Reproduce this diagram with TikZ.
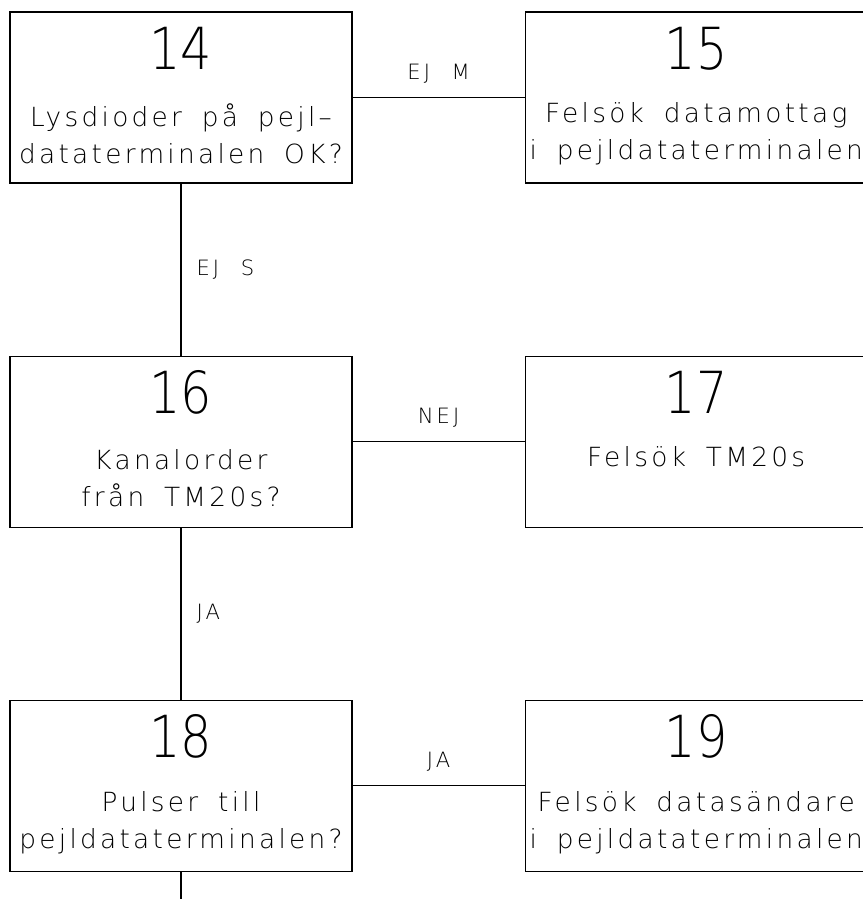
\documentclass[tikz,border=0pt]{standalone}
\usepackage{fontspec}
\newfontfamily\numfont{DejaVu Sans ExtraLight}[FakeStretch=0.85]
\newfontfamily\cadfont{DejaVu Sans ExtraLight}[LetterSpace=12.5, WordSpace=1.7]
\newfontfamily\lblfont{DejaVu Sans ExtraLight}[LetterSpace=15, WordSpace=2.2]
\usepackage{tikz}
\usetikzlibrary{positioning}

\begin{document}
\begin{tikzpicture}[
    node distance=3.44cm,
    box/.style={rectangle, draw, line width=0.7pt, minimum width=6.84cm, minimum height=3.42cm, inner sep=0pt},
    num/.style={font=\numfont\fontsize{33}{33}\selectfont, inner sep=0pt},
    txt/.style={font=\cadfont\fontsize{15}{21}\selectfont, align=center, inner sep=0pt},
    hlbl/.style={font=\lblfont\fontsize{12}{12}\selectfont, inner sep=0pt, anchor=base, yshift=0.37cm},
    vlbl/.style={font=\lblfont\fontsize{12}{12}\selectfont, inner sep=0pt, anchor=west, xshift=0.3cm},
    link/.style={line width=0.6pt}
]
\useasboundingbox (0,0) rectangle (17.26,-17.98);
\clip (0,0) rectangle (17.26,-17.98);

\node[box] (b14) at (3.62,-1.95) {};
\node[box, right=of b14] (b15) {};
\node[box, below=of b14] (b16) {};
\node[box, right=of b16] (b17) {};
\node[box, below=of b16] (b18) {};
\node[box, right=of b18] (b19) {};
\coordinate (tail) at (3.62,-17.98);

\foreach \b/\n in {b14/14, b15/15, b16/16, b17/17, b18/18, b19/19}
    \node[num] (n\n) at ([yshift=-0.74cm]\b.north) {\n};

\node[txt] (t14) at ([yshift=-2.45cm]b14.north) {Lysdioder på pejl–\\dataterminalen OK?};
\node[txt] (t15) at ([yshift=-2.45cm]b15.north) {Felsök datamottag\\i pejldataterminalen};
\node[txt] (t16) at ([yshift=-2.45cm]b16.north) {Kanalorder\\från TM20s?};
\node[txt] (t17) at ([yshift=-2.02cm]b17.north) {Felsök TM20s};
\node[txt] (t18) at ([yshift=-2.45cm]b18.north) {Pulser till\\pejldataterminalen?};
\node[txt] (t19) at ([yshift=-2.45cm]b19.north) {Felsök datasändare\\i pejldataterminalen};

\foreach \a/\b/\t in {b14/b15/EJ M, b16/b17/NEJ, b18/b19/JA}
    \draw[link] (\a) -- node[hlbl] {\t} (\b);
\foreach \a/\b/\t in {b14/b16/EJ S, b16/b18/JA}
    \draw[link] (\a) -- node[vlbl] {\t} (\b);
\draw[link] (b18) -- (tail);

\end{tikzpicture}
\end{document}
